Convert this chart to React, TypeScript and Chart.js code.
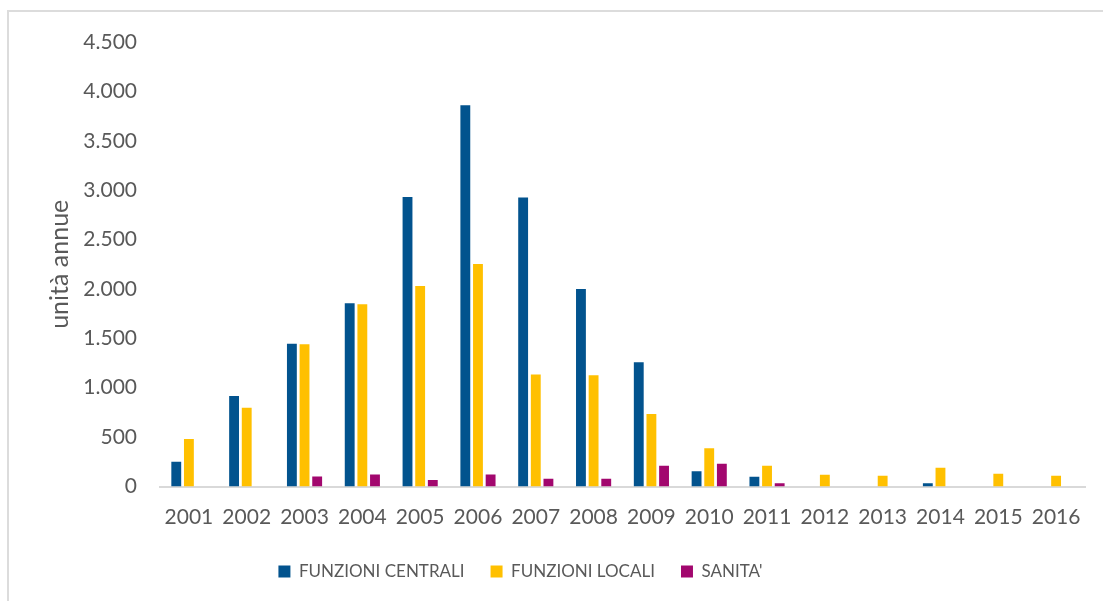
import React, { useEffect, useRef } from "react";
import { Chart, registerables } from "chart.js";

Chart.register(...registerables);

const years = ["2001", "2002", "2003", "2004", "2005", "2006", "2007", "2008", "2009", "2010", "2011", "2012", "2013", "2014", "2015", "2016"];
const funzioniCentrali = [250, 915, 1445, 1855, 2930, 3860, 2925, 2000, 1258, 155, 98, 0, 0, 34, 0, 0];
const funzioniLocali = [482, 796, 1440, 1845, 2030, 2253, 1133, 1127, 735, 388, 209, 118, 108, 189, 128, 108];
const sanita = [0, 0, 101, 121, 65, 121, 78, 78, 209, 230, 34, 0, 0, 0, 0, 0];
const seriesNames = ["FUNZIONI CENTRALI", "FUNZIONI LOCALI", "SANITA'"];
const yTitle = "unità annue";

const TEXT = "#595959";

function fmt(v: number): string {
  return String(v).replace(/\B(?=(\d{3})+(?!\d))/g, ".");
}

const legendShift = {
  id: "legendShift",
  afterLayout(chart: any) {
    if (chart.legend) {
      chart.legend.right -= 44;
    }
  },
};

export default function App() {
  const ref = useRef<HTMLCanvasElement>(null);

  useEffect(() => {
    if (!ref.current) return;
    Chart.defaults.font.family = "Lato";
    const chart = new Chart(ref.current, {
      type: "bar",
      data: {
        labels: years,
        datasets: [
          { label: seriesNames[0], data: funzioniCentrali, backgroundColor: "#02538E" },
          { label: seriesNames[1], data: funzioniLocali, backgroundColor: "#FFC000" },
          { label: seriesNames[2], data: sanita, backgroundColor: "#A2076E" },
        ],
      },
      plugins: [legendShift],
      options: {
        animation: false,
        responsive: false,
        maintainAspectRatio: false,
        datasets: { bar: { barPercentage: 0.78, categoryPercentage: 0.656 } },
        layout: { padding: { top: 42, right: 18, left: 0, bottom: 11 } },
        plugins: {
          tooltip: { enabled: false },
          legend: {
            position: "bottom",
            labels: {
              boxWidth: 12,
              boxHeight: 12,
              padding: 26,
              color: TEXT,
              font: { size: 17, family: "Lato" },
            },
          },
        },
        scales: {
          x: {
            grid: { display: false, drawTicks: false },
            border: { display: true, color: "#d9d9d9", width: 2 },
            ticks: {
              color: TEXT,
              font: { size: 21, family: "Lato" },
              padding: 18,
              maxRotation: 0,
              autoSkip: false,
            },
            afterFit: (s: any) => {
              s.height = 50.5;
            },
          },
          y: {
            min: 0,
            max: 4500,
            grid: { display: false, drawTicks: false },
            border: { display: false },
            ticks: {
              stepSize: 500,
              color: TEXT,
              font: { size: 21, family: "Lato" },
              padding: 23,
              callback: (v: any) => fmt(Number(v)),
            },
            title: {
              display: true,
              text: yTitle,
              color: TEXT,
              font: { size: 25, family: "Lato" },
              padding: { top: 45, bottom: 0 },
            },
            afterFit: (s: any) => {
              s.width = 160;
            },
          },
        },
      },
    });
    return () => chart.destroy();
  }, []);

  return (
    <div style={{ position: "absolute", left: 0, top: 0, width: 1103, height: 601, overflow: "hidden", background: "#fff" }}>
      <div
        style={{
          position: "absolute",
          left: 7,
          top: 10,
          width: 1200,
          height: 700,
          border: "2px solid #dcdcdc",
          boxSizing: "border-box",
        }}
      />
      <canvas ref={ref} width={1103} height={601} style={{ position: "absolute", left: 0, top: 0, width: 1103, height: 601 }} />
    </div>
  );
}
